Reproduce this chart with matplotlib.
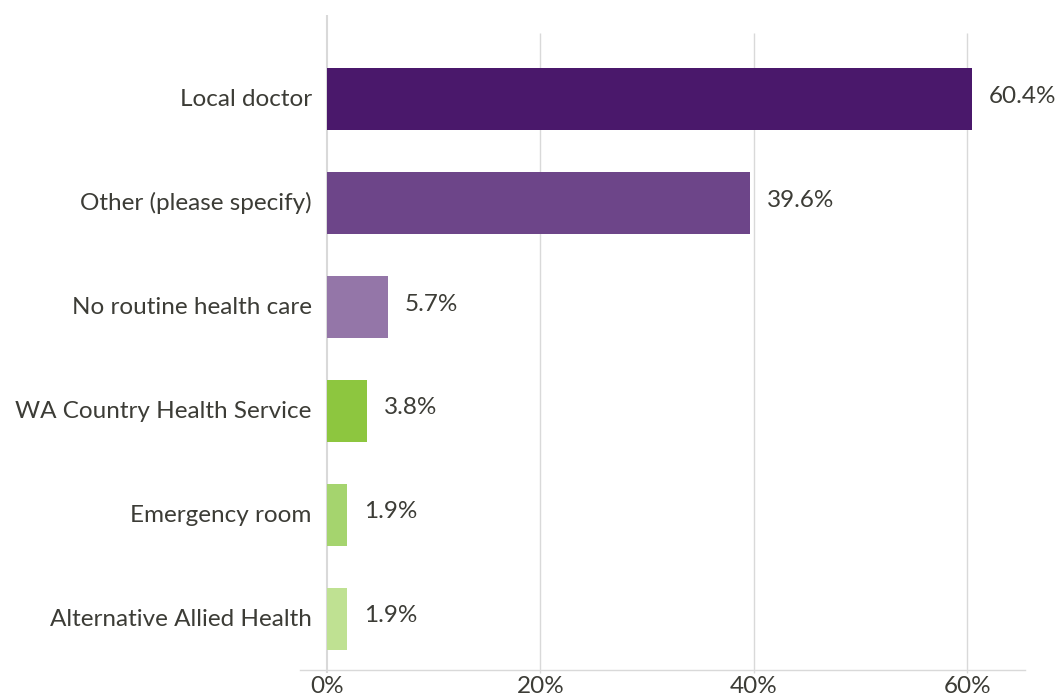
import matplotlib.pyplot as plt

plt.rcParams['font.family'] = ['Lato', 'DejaVu Sans']

categories = ["Local doctor", "Other (please specify)", "No routine health care",
              "WA Country Health Service", "Emergency room", "Alternative Allied Health"]
values = [60.4, 39.6, 5.7, 3.8, 1.9, 1.9]
labels = ["60.4%", "39.6%", "5.7%", "3.8%", "1.9%", "1.9%"]
colors = ["#4a186b", "#6d4589", "#9476a8", "#8dc63f", "#a5d46e", "#bfe192"]
ticks = [0, 20, 40, 60]
tick_labels = ["0%", "20%", "40%", "60%"]

text_color = "#3c3c36"
grid_color = "#d9d9d9"

fig = plt.figure(figsize=(10.58, 7.0), dpi=100)
ax = fig.add_axes([0.2836, 0.0429, 0.6852, 0.9357])

ypos = list(range(len(categories)))
ax.barh(ypos, values, height=0.6, color=colors, zorder=3)

# value labels to the right of each bar
for y, v, lab in zip(ypos, values, labels):
    ax.text(v + 1.6, y - 0.03, lab, va="center", ha="left",
            fontsize=17.5, color=text_color)

# category labels, right aligned just left of the zero line
for y, cat in zip(ypos, categories):
    ax.text(-1.4, y, cat, va="center", ha="right",
            fontsize=17.5, color=text_color)

ax.set_xlim(-2.5, 65.4)
ax.set_ylim(5.49, -0.81)

# gridlines and zero line
ax.vlines([20, 40, 60], -0.64, 5.52, color=grid_color, lw=1, zorder=1, clip_on=False)
ax.vlines([0], -0.81, 5.52, color=grid_color, lw=1.5, zorder=1, clip_on=False)

for s in ["top", "right", "left"]:
    ax.spines[s].set_visible(False)
ax.spines["bottom"].set_color(grid_color)
ax.spines["bottom"].set_linewidth(1)

ax.set_yticks([])
ax.set_xticks(ticks)
ax.set_xticklabels(tick_labels, fontsize=17.5, color=text_color)
ax.tick_params(axis="x", length=0, pad=4)

fig.savefig("out.png", dpi=100)
